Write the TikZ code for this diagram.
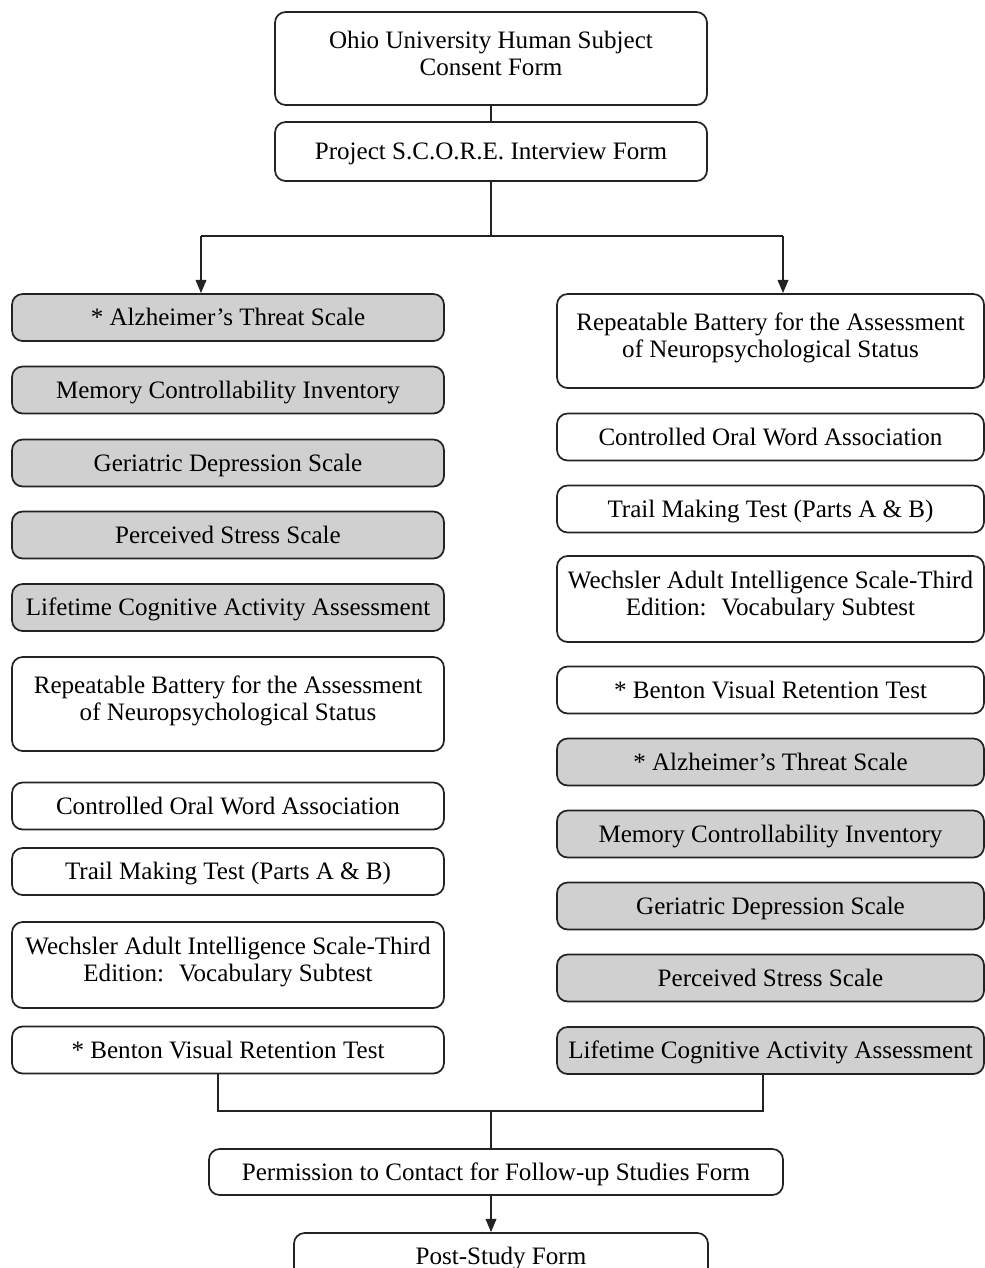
\documentclass[tikz,border=0pt]{standalone}
\usepackage{fontspec}
\setmainfont{Liberation Serif}
\usetikzlibrary{arrows.meta}

\tikzset{
  box/.style={draw={rgb, 255:red, 35; green, 35; blue, 35 }, line width=1.3pt, rounded corners=8pt, fill=white, font=\fontsize{18.8}{20.5}\selectfont, align=center, inner sep=0pt, minimum height=35.25pt, text height=12.8pt, text depth=0.4pt},
  shaded/.style={box, fill={rgb, 255:red, 208; green, 208; blue, 208 }},
  lcol/.style={minimum width=324pt},
  rcol/.style={minimum width=320.25pt},
  twoline/.style={text height=33pt, text depth=7.6pt},
  link/.style={draw={rgb, 255:red, 35; green, 35; blue, 35 }, line width=1.3pt},
  arr/.style={link, -{Triangle[length=10pt,width=8pt]}}
}

\begin{document}
\begin{tikzpicture}[x=0.75pt,y=0.75pt,yscale=-1,xscale=1]
\useasboundingbox (0,0) rectangle (985,1268);
\clip (0,0) rectangle (985,1268);

%Rounded Rect [top forms]
\node[box, lcol, minimum height=69.75pt, twoline] (consent) at (491,58.5) {Ohio University Human Subject\\Consent Form};
\node[box, lcol, minimum height=44.25pt] (interview) at (491,151.5) {Project S.C.O.R.E. Interview Form};

%Rounded Rect [left column]
\node[shaded, lcol] (lalz) at (228,317.5) {* Alzheimer’s Threat Scale};
\node[shaded, lcol] (lmci) at (228,390) {Memory Controllability Inventory};
\node[shaded, lcol] (lgds) at (228,463) {Geriatric Depression Scale};
\node[shaded, lcol] (lpss) at (228,535) {Perceived Stress Scale};
\node[shaded, lcol] (llca) at (228,607.5) {Lifetime Cognitive Activity Assessment};
\node[box, lcol, minimum height=70.5pt, twoline] (lrbans) at (228,704) {Repeatable Battery for the Assessment\\of Neuropsychological Status};
\node[box, lcol] (lcowa) at (228,806) {Controlled Oral Word Association};
\node[box, lcol] (ltmt) at (228,871.5) {Trail Making Test (Parts A \& B)};
\node[box, lcol, minimum height=64.5pt, twoline] (lwais) at (228,965) {Wechsler Adult Intelligence Scale-Third\\Edition:~ Vocabulary Subtest};
\node[box, lcol] (lbvrt) at (228,1050) {* Benton Visual Retention Test};

%Rounded Rect [right column]
\node[box, rcol, minimum height=70.5pt, twoline] (rrbans) at (770.5,341) {Repeatable Battery for the Assessment\\of Neuropsychological Status};
\node[box, rcol] (rcowa) at (770.5,437) {Controlled Oral Word Association};
\node[box, rcol] (rtmt) at (770.5,509) {Trail Making Test (Parts A \& B)};
\node[box, rcol, minimum height=64.5pt, twoline] (rwais) at (770.5,599) {Wechsler Adult Intelligence Scale-Third\\Edition:~ Vocabulary Subtest};
\node[box, rcol] (rbvrt) at (770.5,690) {* Benton Visual Retention Test};
\node[shaded, rcol] (ralz) at (770.5,762) {* Alzheimer’s Threat Scale};
\node[shaded, rcol] (rmci) at (770.5,834) {Memory Controllability Inventory};
\node[shaded, rcol] (rgds) at (770.5,906) {Geriatric Depression Scale};
\node[shaded, rcol] (rpss) at (770.5,978) {Perceived Stress Scale};
\node[shaded, rcol] (rlca) at (770.5,1050.5) {Lifetime Cognitive Activity Assessment};

%Rounded Rect [closing forms]
\node[box, minimum width=430.5pt, minimum height=34.5pt] (permission) at (496,1172) {Permission to Contact for Follow-up Studies Form};
\node[box, minimum width=310.5pt] (poststudy) at (501,1256.5) {Post-Study Form};

%Straight Lines [split]
\coordinate (split) at (491,236);
\coordinate (lsplit) at (201,236);
\coordinate (rsplit) at (783,236);
\draw[link] (consent) -- (interview);
\draw[link] (interview) -- (split);
\draw[link] (lsplit) -- (rsplit);
\draw[arr] (lsplit) -- (lsplit |- lalz.north);
\draw[arr] (rsplit) -- (rsplit |- rrbans.north);

%Straight Lines [merge]
\coordinate (merge) at (491,1111);
\coordinate (lmerge) at (218,1111);
\coordinate (rmerge) at (763,1111);
\draw[link] (lbvrt.south -| lmerge) -- (lmerge) -- (rmerge) -- (rlca.south -| rmerge);
\draw[link] (merge) -- (merge |- permission.north);
\draw[arr] (permission.south -| merge) -- (poststudy.north -| merge);

\end{tikzpicture}
\end{document}
